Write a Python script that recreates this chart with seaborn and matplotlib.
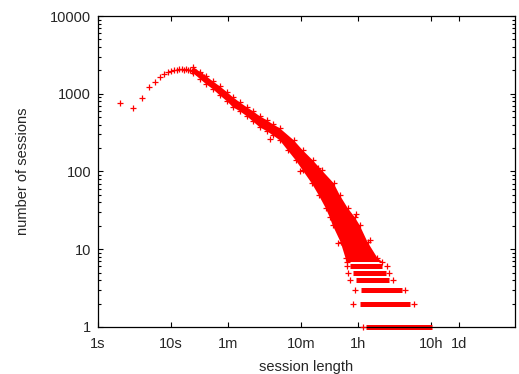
import numpy as np
import pandas as pd
import seaborn as sns
import matplotlib
matplotlib.use("Agg")
import matplotlib.pyplot as plt
from matplotlib.ticker import LogLocator, NullLocator, NullFormatter

# single lengths at the start of the curve (seconds) and sessions per length
head_len = [2, 3, 4, 5, 6, 7, 8, 9, 10, 11, 12, 13, 14, 15, 16, 17, 18, 19, 20, 22, 24, 26, 28, 30]
head_n = [750, 650, 870, 1230, 1400, 1620, 1770, 1900, 1970, 2000, 2040, 2060, 2080, 2050,
          2070, 2040, 2000, 1990, 1950, 1880, 1800, 1720, 1620, 1540]

# the dense cloud of points: its upper and lower edge
band_top_len = [20, 25, 30, 37, 46, 58, 70, 86, 108, 130, 162, 202, 244, 304, 472, 626, 858,
                1138, 1658, 2004, 2577, 3209, 3753, 4822, 6600, 7727]
band_top_n = [2200, 1900, 1680, 1450, 1250, 1050, 900, 780, 670, 600, 515, 458, 406, 361, 253,
              188, 140, 104, 71, 50, 34, 26, 20.5, 12.4, 7.7, 6.85]
band_bot_len = [20, 25, 30, 37, 46, 58, 70, 86, 108, 130, 162, 202, 244, 304, 391, 503, 626,
                830, 1035, 1291, 1463, 1607, 2066, 2416, 2495]
band_bot_n = [1840, 1540, 1330, 1150, 960, 800, 670, 600, 515, 444, 372, 331, 294, 253, 188,
              140, 104, 71, 50, 34, 26, 20.5, 12.4, 7.7, 6.85]

# long sessions: rows of points at 1..6 sessions per length
level_n = [1, 2, 3, 4, 5, 6]
level_start = [4530, 3753, 3873, 3311, 3013, 2742]
level_end = [37150, 18620, 14490, 9630, 8765, 7727]

# loose points outside the dense parts
stray_len = [4121, 3013, 21130, 3258, 15920, 2742, 10590, 2577, 9630, 2495, 9040,
             222, 1002, 570, 3383, 1881, 5140]
stray_n = [1, 2, 2, 3, 3, 4, 4, 5, 5, 6, 6, 259, 111, 102, 28, 12, 13]

tick_sec = [1, 10, 60, 600, 3600, 36000, 86400]
tick_lab = ["1s", "10s", "1m", "10m", "1h", "10h", "1d"]
ytick_val = [1, 10, 100, 1000, 10000]
ytick_lab = ["1", "10", "100", "1000", "10000"]

sns.set_style("ticks")
plt.rcParams["font.family"] = ["Liberation Sans", "DejaVu Sans"]
plt.rcParams["font.size"] = 10.5

fig = plt.figure(figsize=(5.19, 3.74), dpi=100)
ax = fig.add_axes([0.1888, 0.1257, 0.8035, 0.8315])
red = "#ff0000"

# dense cloud
ax.fill(band_top_len + band_bot_len[::-1], band_top_n + band_bot_n[::-1],
        color=red, lw=0, zorder=2)
ax.hlines(level_n, level_start, level_end, colors=red, lw=3.6, zorder=2, clip_on=False)

pts = pd.DataFrame({
    "len": head_len + band_top_len + band_bot_len + stray_len,
    "n": head_n + band_top_n + band_bot_n + stray_n,
})
sns.scatterplot(data=pts, x="len", y="n", marker="+", color=red, s=16,
                linewidth=0.9, ax=ax, zorder=3, clip_on=False)

ax.set_xscale("log")
ax.set_yscale("log")
ax.set_xlim(1, 5e5)
ax.set_ylim(1, 1e4)
ax.set_xticks(tick_sec, tick_lab)
ax.xaxis.set_minor_locator(NullLocator())
ax.set_yticks(ytick_val, ytick_lab)
ax.yaxis.set_minor_locator(LogLocator(base=10, subs=np.arange(2, 10)))
ax.yaxis.set_minor_formatter(NullFormatter())
ax.tick_params(which="both", direction="in", top=True, right=True, color="black", width=0.8)
ax.tick_params(which="major", length=3.6)
ax.tick_params(which="minor", length=2)
ax.tick_params(axis="x", pad=7.5)
ax.tick_params(axis="y", pad=5)
for s in ax.spines.values():
    s.set_linewidth(0.9)
    s.set_color("black")

ax.set_xlabel("session length", labelpad=6)
ax.set_ylabel("number of sessions", labelpad=14)

fig.savefig("out.png", dpi=100)
